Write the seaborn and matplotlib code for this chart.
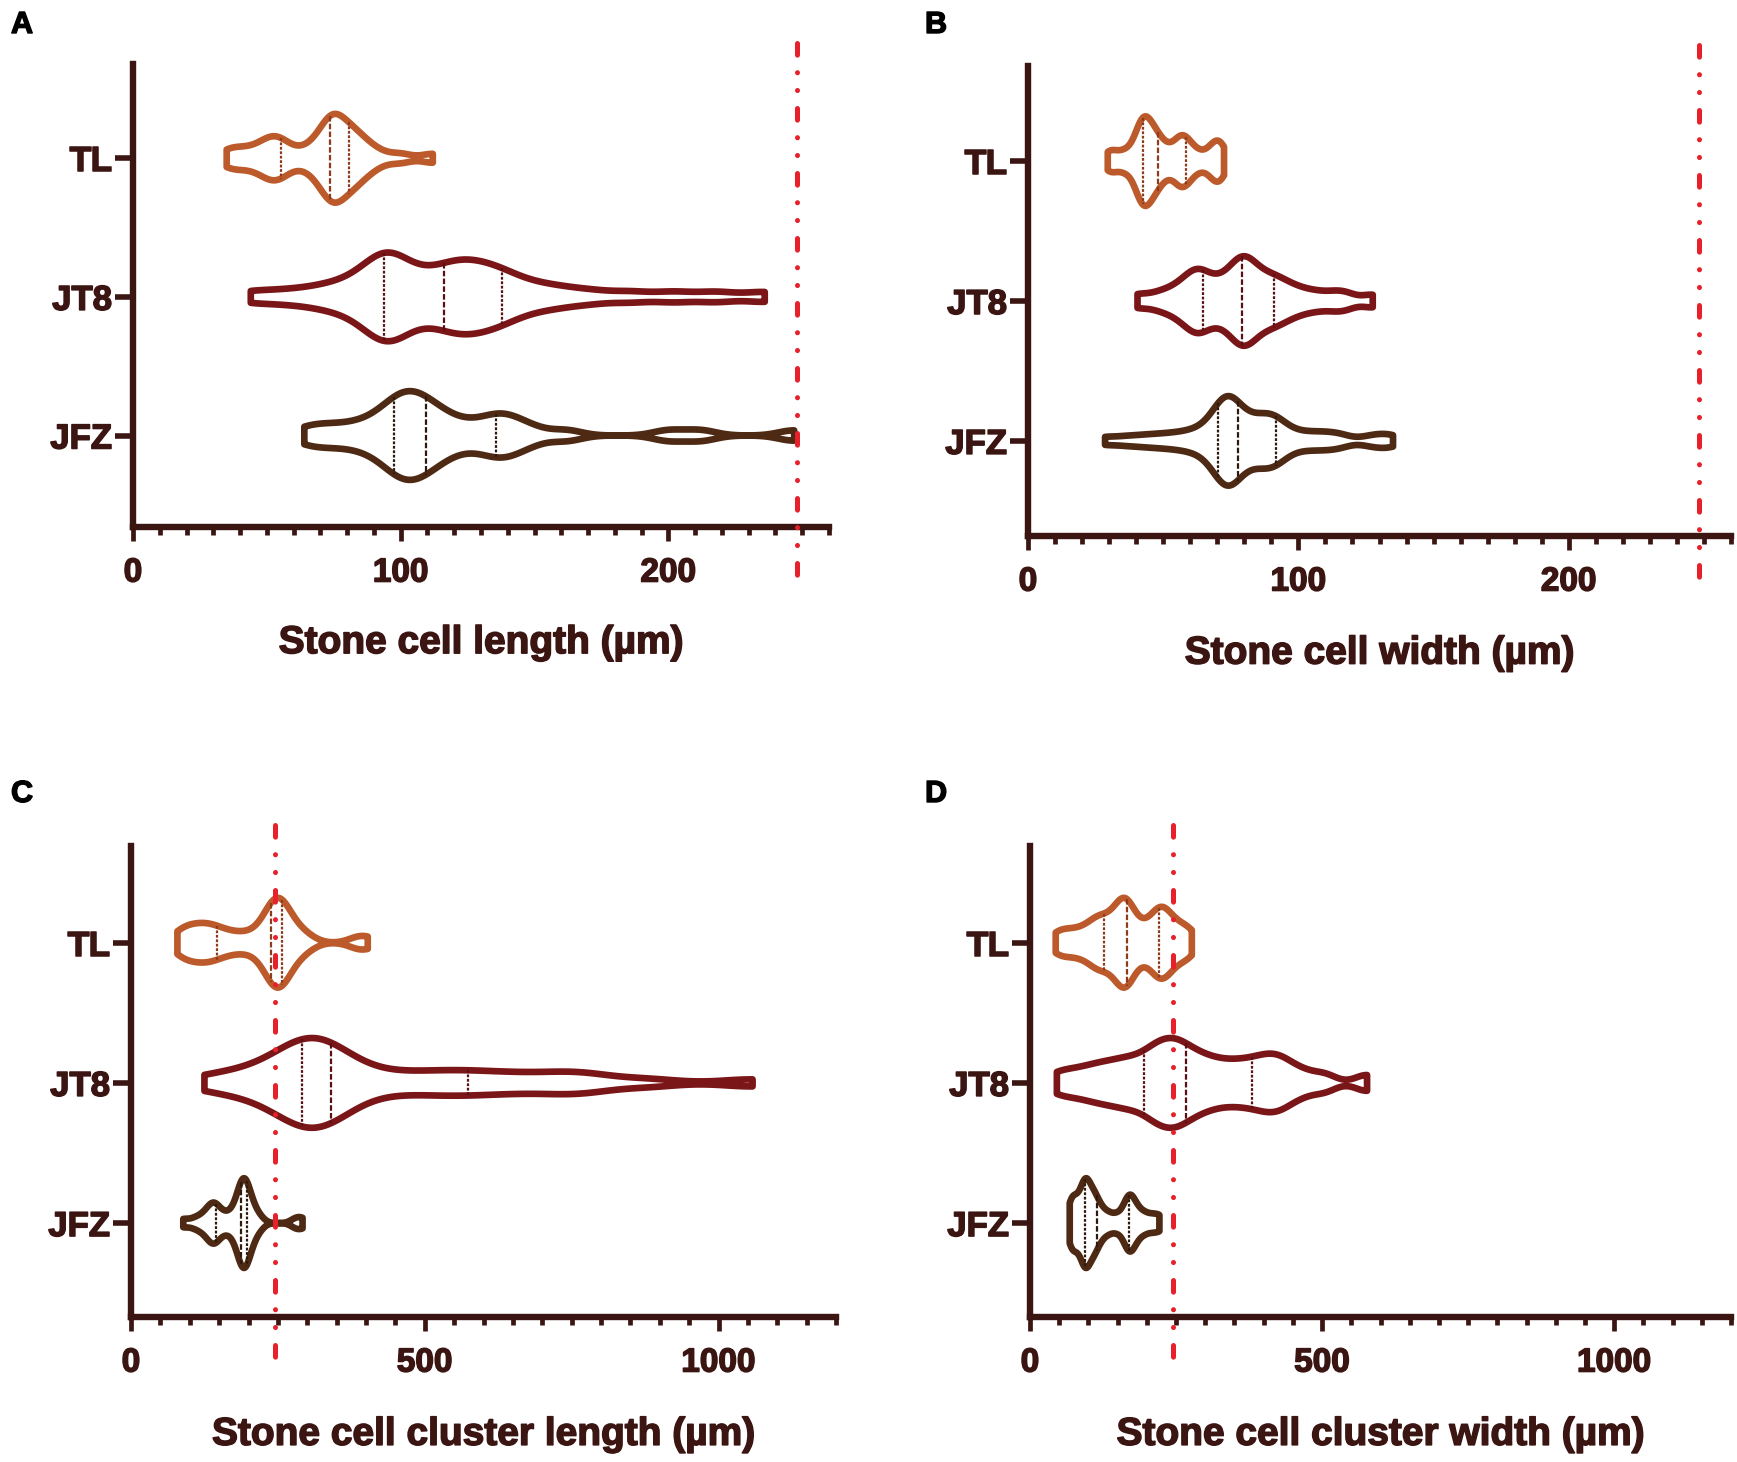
import numpy as np
import pandas as pd
import matplotlib
matplotlib.use("Agg")
import matplotlib.pyplot as plt
import matplotlib.transforms as mtransforms
import matplotlib.patheffects as pe
from matplotlib.ticker import MultipleLocator
import seaborn as sns

# ---------------- data (µm) ----------------
groups = ["TL", "JT8", "JFZ"]

# A: stone cell length
A_TL = [35, 38, 42, 46, 49, 51, 52.5, 54, 55.5, 58, 63, 67, 69, 71, 72.5, 73.5,
        74, 74.5, 75, 75.5, 76.5, 77.5, 79, 80.5, 81.5, 82.5, 84, 86, 88, 92, 100, 112]
A_JT8 = [44, 56, 66, 73, 78.5, 83, 86.5, 89.5, 91.5, 93,
         94, 95, 96.3, 97.8, 99.6, 102, 105, 108.5, 112, 115,
         117.5, 119.5, 121.5, 123.5, 125.5, 127.7, 130, 132.5, 135, 137.3,
         140, 144, 149, 155, 162, 172, 186, 202, 218, 236]
A_JFZ = [64, 70, 76, 82, 87, 91, 94, 96.5, 98, 99.5, 101, 102.5, 104, 105.5, 107, 108.5,
         110.5, 112.5, 115, 118, 122, 127, 132, 135, 138, 140.5, 144, 150, 162, 200, 212, 247]

# B: stone cell width
B_TL = [29.5, 32, 35, 37.5, 39.5, 40.5, 41.3, 42, 42.5, 43.2, 43.8, 44.4, 45, 45.8, 46.7, 47.6,
        48.5, 50, 51.5, 53.5, 55, 56.2, 57.2, 58.2, 59.5, 61, 63.5, 66.5, 68.5, 69.8, 71, 72.5]
B_JT8 = [40.5, 48, 53, 56.5, 59, 61, 62.5, 63.5, 65, 67.5, 70, 72.5, 74.5, 76.3, 77.7, 78.8,
         79.5, 80.5, 81.7, 83, 84.5, 86.5, 88.5, 90.5, 92.5, 95, 98, 102, 107, 113, 118, 127.5]
B_JFZ = [28.5, 36, 42, 47, 51.5, 55.5, 59, 62, 64.5, 66.5, 68.2, 69.6,
         70.5, 71.1, 71.7, 72.3, 72.9, 73.5, 74.1, 74.7, 75.3, 75.9, 76.5, 77,
         78, 79.3, 80.6, 81.9, 83.2, 84.5, 85.8, 87.1, 88.3, 89.4, 90.4, 91.3,
         92.5, 94, 96, 99, 102.5, 106, 109.5, 113, 117, 126, 131, 135]

# C: stone cell cluster length
C_TL = [79, 88, 97, 106, 115, 123, 131, 139, 148, 160, 174, 190, 206, 220, 230, 236,
        239.5, 242, 244.5, 247, 249.5, 252, 254.5, 257, 260, 264, 270, 278, 288, 302, 385, 403]
C_JT8 = [125, 165, 200, 228, 250, 266, 278, 287, 293, 298, 304, 311, 318, 325, 331, 337,
         345, 360, 385, 420, 460, 500, 535, 565, 600, 640, 680, 730, 760, 790, 880, 1058]
C_JFZ = [89, 108, 120, 128, 133.5, 137.5, 140.5, 143, 146, 152, 160, 168, 175, 180, 183.5, 186,
         187.8, 189, 190.2, 191.4, 192.6, 193.8, 195, 196.2, 198, 200, 203, 207, 212, 220, 280, 292]

# D: stone cell cluster width
D_TL = [44, 58, 72, 86, 98, 108, 115, 121, 128, 136, 143, 149, 154, 158, 161.5, 164,
        167, 171, 177, 186, 197, 207, 214, 219, 224, 228, 232, 238, 246, 256, 266, 277]
D_JT8 = [46, 75, 100, 120, 138, 155, 170, 184, 200, 210, 219, 228, 237, 245, 253, 261,
         272, 283, 296, 310, 326, 343, 360, 376, 392, 405, 418, 430, 445, 470, 505, 577]
D_JFZ = [68, 70.5, 74, 78, 82, 86, 89.5, 92.5, 94, 95.5, 97.5, 100, 103, 106, 109, 112,
         116, 121, 128, 137, 148, 158, 164, 168, 171, 174, 178, 183, 190, 199, 210, 221.5]

thresholds = [248, 248, 245, 244]
xlabels = ["Stone cell length (µm)", "Stone cell width (µm)",
           "Stone cell cluster length (µm)", "Stone cell cluster width (µm)"]
panel_letters = ["A", "B", "C", "D"]
xmax = [260, 260, 1200, 1200]
major_step = [100, 100, 500, 500]
minor_step = [10, 10, 50, 50]

panels = {
    "A": {"TL": A_TL, "JT8": A_JT8, "JFZ": A_JFZ},
    "B": {"TL": B_TL, "JT8": B_JT8, "JFZ": B_JFZ},
    "C": {"TL": C_TL, "JT8": C_JT8, "JFZ": C_JFZ},
    "D": {"TL": D_TL, "JT8": D_JT8, "JFZ": D_JFZ},
}

rows = []
for p, d in panels.items():
    for g in groups:
        for v in d[g]:
            rows.append((p, g, v))
df = pd.DataFrame(rows, columns=["panel", "group", "value"])

# ---------------- style ----------------
sns.set_style("ticks")
plt.rcParams["font.family"] = ["Liberation Sans", "DejaVu Sans"]
plt.rcParams["font.weight"] = "bold"
plt.rcParams["axes.labelweight"] = "bold"

dark = "#3A1512"
red = "#E8202A"
colors = {"TL": "#BC5A2B", "JT8": "#7A1518", "JFZ": "#4E2A14"}
inner_colors = {"TL": "#8E3B1C", "JT8": "#5A1012", "JFZ": "#2E1A0C"}
bw = {
    "A": {"TL": 0.45, "JT8": 0.36, "JFZ": 0.29},
    "B": {"TL": 0.33, "JT8": 0.38, "JFZ": 0.38},
    "C": {"TL": 0.44, "JT8": 0.45, "JFZ": 0.42},
    "D": {"TL": 0.44, "JT8": 0.31, "JFZ": 0.29},
}
violin_lw = 4.8
text_fx = [pe.withStroke(linewidth=1.1, foreground=dark)]

W, H = 1737, 1462
fig = plt.figure(figsize=(W / 100, H / 100), dpi=100)

# axes rectangles in pixels: left, top, right, bottom
rects = [(133, 64, 829, 527), (1028, 66, 1731, 536),
         (131, 846, 836, 1317), (1030, 846, 1731, 1317)]
ylims = [(2.66, -0.68), (2.68, -0.68), (2.67, -0.69), (2.67, -0.69)]
letter_pos = [(22, 25), (936, 25), (22, 794), (936, 794)]

lw_dash = 3.6
red_dashes = [x / lw_dash for x in (8.4, 12.6, 0.1, 12.7, 0.1, 12.9)]

for i, (p, d) in enumerate(panels.items()):
    l, t, r, b = rects[i]
    ax = fig.add_axes([l / W, 1 - b / H, (r - l) / W, (b - t) / H])
    for g in groups:
        sub = df[(df.panel == p) & (df.group == g)]
        sns.violinplot(data=sub, x="value", y="group", order=groups, orient="h",
                       color=colors[g], fill=False, linewidth=violin_lw, inner="quart",
                       inner_kws=dict(linewidth=1.6, color=inner_colors[g]),
                       density_norm="width", width=0.64, cut=0,
                       bw_adjust=bw[p][g], gridsize=300, saturation=1, ax=ax)
    for coll in ax.collections:
        coll.set_linewidth(violin_lw)
        coll.set_joinstyle("round")
    ax.set_xlim(0, xmax[i])
    ax.set_ylim(*ylims[i])
    ax.xaxis.set_major_locator(MultipleLocator(major_step[i]))
    ax.xaxis.set_minor_locator(MultipleLocator(minor_step[i]))
    ax.set_ylabel("")
    ax.set_xlabel(xlabels[i], fontsize=28, fontweight="bold", color=dark)
    ax.xaxis.label.set_path_effects(text_fx)
    ax.xaxis.set_label_coords(0.5, -0.212)
    for s in ["top", "right"]:
        ax.spines[s].set_visible(False)
    for s in ["left", "bottom"]:
        ax.spines[s].set_color(dark)
        ax.spines[s].set_linewidth(4.6)
    ax.tick_params(axis="x", which="major", direction="out", length=10, width=3.4,
                   color=dark, labelsize=24, labelcolor=dark, pad=12)
    ax.tick_params(axis="x", which="minor", direction="out", length=6, width=3.4,
                   color=dark)
    ax.tick_params(axis="y", which="major", direction="out", length=13, width=4,
                   color=dark, labelsize=25, labelcolor=dark, pad=2)
    for lbl in ax.get_xticklabels() + ax.get_yticklabels():
        lbl.set_fontweight("bold")
        lbl.set_path_effects(text_fx)
    trans = mtransforms.blended_transform_factory(ax.transData, ax.transAxes)
    ax.plot([thresholds[i], thresholds[i]], [1.045, -0.11], transform=trans,
            clip_on=False, color=red, lw=lw_dash, dashes=red_dashes,
            dash_capstyle="round", zorder=6)
    lx, ly = letter_pos[i]
    fig.text(lx / W, 1 - ly / H, panel_letters[i], ha="center", va="center",
             fontsize=22, fontweight="bold", color="black",
             path_effects=[pe.withStroke(linewidth=1.0, foreground="black")])

fig.savefig("out.png", dpi=100, facecolor="white")
